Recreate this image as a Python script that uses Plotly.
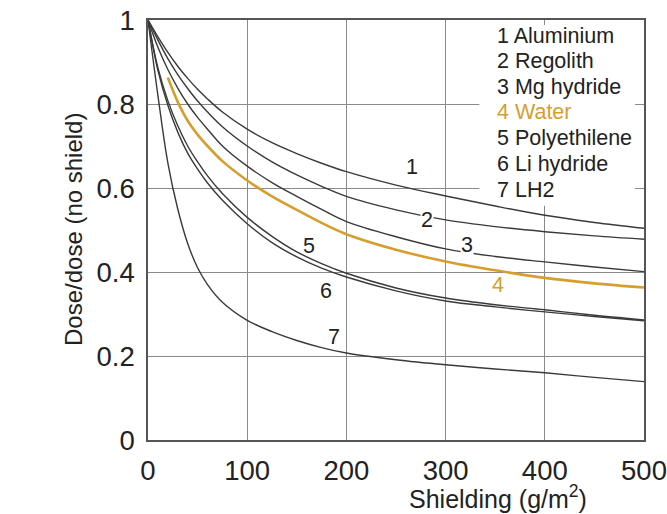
import plotly.graph_objects as go

# ---- data ----
shielding = [0, 10, 20, 30, 40, 50, 60, 75, 100, 125, 150, 175, 200, 250, 300, 350, 400, 450, 500]

aluminium    = [1.0, 0.96, 0.923, 0.89, 0.861, 0.835, 0.812, 0.781, 0.740, 0.708, 0.682, 0.659, 0.639, 0.607, 0.581, 0.557, 0.535, 0.518, 0.504]
regolith     = [1.0, 0.952, 0.908, 0.87, 0.837, 0.807, 0.781, 0.746, 0.700, 0.662, 0.631, 0.604, 0.580, 0.548, 0.524, 0.508, 0.496, 0.486, 0.478]
mg_hydride   = [1.0, 0.935, 0.882, 0.838, 0.80, 0.768, 0.740, 0.700, 0.652, 0.613, 0.580, 0.549, 0.520, 0.484, 0.455, 0.437, 0.424, 0.412, 0.401]
water_x      = [20, 30, 40, 50, 60, 75, 100, 125, 150, 175, 200, 250, 300, 350, 400, 450, 500]
water        = [0.863, 0.805, 0.76, 0.727, 0.70, 0.664, 0.618, 0.58, 0.548, 0.517, 0.49, 0.453, 0.425, 0.404, 0.386, 0.373, 0.363]
polyethylene = [1.0, 0.886, 0.808, 0.748, 0.70, 0.662, 0.629, 0.587, 0.530, 0.485, 0.448, 0.420, 0.397, 0.362, 0.338, 0.322, 0.310, 0.297, 0.286]
li_hydride   = [1.0, 0.88, 0.797, 0.733, 0.683, 0.645, 0.612, 0.571, 0.515, 0.470, 0.436, 0.409, 0.388, 0.355, 0.331, 0.317, 0.305, 0.294, 0.284]
lh2          = [1.0, 0.82, 0.66, 0.55, 0.468, 0.41, 0.37, 0.328, 0.285, 0.258, 0.237, 0.220, 0.207, 0.191, 0.179, 0.169, 0.160, 0.149, 0.139]

legend_labels = ["1 Aluminium", "2 Regolith", "3 Mg hydride", "4 Water",
                 "5 Polyethilene", "6 Li hydride", "7 LH2"]
x_ticks = [0, 100, 200, 300, 400, 500]
y_ticks = [0, 0.2, 0.4, 0.6, 0.8, 1]
y_tick_text = ["0", "0.2", "0.4", "0.6", "0.8", "1"]

DARK = "#3a3a3a"
ORANGE = "#D69E2E"
TEXT = "#222222"
FONT = "Liberation Sans, Arial, sans-serif"

fig = go.Figure()

black_series = [aluminium, regolith, mg_hydride, polyethylene, li_hydride, lh2]
for ys in black_series:
    fig.add_trace(go.Scatter(x=shielding, y=ys, mode="lines",
                             line=dict(color=DARK, width=1.4, shape="spline", smoothing=1.0),
                             hoverinfo="skip", showlegend=False))
fig.add_trace(go.Scatter(x=water_x, y=water, mode="lines",
                         line=dict(color=ORANGE, width=2.6, shape="spline", smoothing=1.0),
                         hoverinfo="skip", showlegend=False))

# white box behind the text legend (hides grid lines)
fig.add_shape(type="rect", xref="x", yref="y", x0=334, x1=491, y0=0.558, y1=0.988,
              fillcolor="white", line=dict(width=0), layer="between")

# legend text
leg_y = [0.962, 0.902, 0.840, 0.781, 0.719, 0.657, 0.595]
for lab, yy in zip(legend_labels, leg_y):
    col = ORANGE if lab.startswith("4") else TEXT
    fig.add_annotation(x=349.5, y=yy, xref="x", yref="y", text=lab, showarrow=False,
                       xanchor="left", yanchor="middle",
                       font=dict(family=FONT, size=21.5, color=col))

# curve number labels
curve_labels = [("1", 266, 0.65, False, TEXT),
                ("2", 281, 0.524, True, TEXT),
                ("3", 322, 0.464, True, TEXT),
                ("4", 353, 0.369, False, ORANGE),
                ("5", 162, 0.462, False, TEXT),
                ("6", 179, 0.355, False, TEXT),
                ("7", 187.5, 0.245, False, TEXT)]
for t, xx, yy, bg, col in curve_labels:
    fig.add_annotation(x=xx, y=yy, xref="x", yref="y", text=t, showarrow=False,
                       xanchor="center", yanchor="middle",
                       bgcolor="white" if bg else "rgba(0,0,0,0)",
                       borderpad=0,
                       font=dict(family=FONT, size=21.5, color=col))

# axis titles
fig.add_annotation(x=(498 - 148) / 496, y=-(497 - 440) / 420, xref="paper", yref="paper",
                   text="Shielding (g/m<sup>2</sup>)", showarrow=False,
                   xanchor="center", yanchor="middle",
                   font=dict(family=FONT, size=25, color=TEXT))
fig.add_annotation(x=-(148 - 73) / 496, y=0.5, xref="paper", yref="paper",
                   text="Dose/dose (no shield)", showarrow=False, textangle=-90,
                   xanchor="center", yanchor="middle",
                   font=dict(family=FONT, size=24, color=TEXT))

fig.update_xaxes(range=[0, 500], tickvals=x_ticks, ticktext=[str(v) for v in x_ticks],
                 showgrid=True, gridcolor="#8a8a8a", gridwidth=1.3,
                 showline=True, linecolor="#555555", linewidth=1.6, mirror=True,
                 zeroline=False, ticks="", ticklabelstandoff=5, automargin=False,
                 ticklabeloverflow="allow",
                 tickfont=dict(family=FONT, size=27.5, color=TEXT))
fig.update_yaxes(range=[0, 1], tickvals=y_ticks, ticktext=y_tick_text,
                 showgrid=True, gridcolor="#8a8a8a", gridwidth=1.3,
                 showline=True, linecolor="#555555", linewidth=1.6, mirror=True,
                 zeroline=False, ticks="", ticklabelstandoff=6, automargin=False,
                 ticklabeloverflow="allow",
                 tickfont=dict(family=FONT, size=27.5, color=TEXT))

fig.update_layout(width=667, height=514,
                  margin=dict(l=148, r=23, t=20, b=74, autoexpand=False),
                  paper_bgcolor="white", plot_bgcolor="white",
                  showlegend=False)

# remove the default page margin / scrollbars so the figure fills the window
page_fix = ("document.body.style.margin='0';"
            "document.body.style.overflow='hidden';"
            "document.documentElement.style.overflow='hidden';")

fig.write_html("out.html", post_script=page_fix, config={"displayModeBar": False})
